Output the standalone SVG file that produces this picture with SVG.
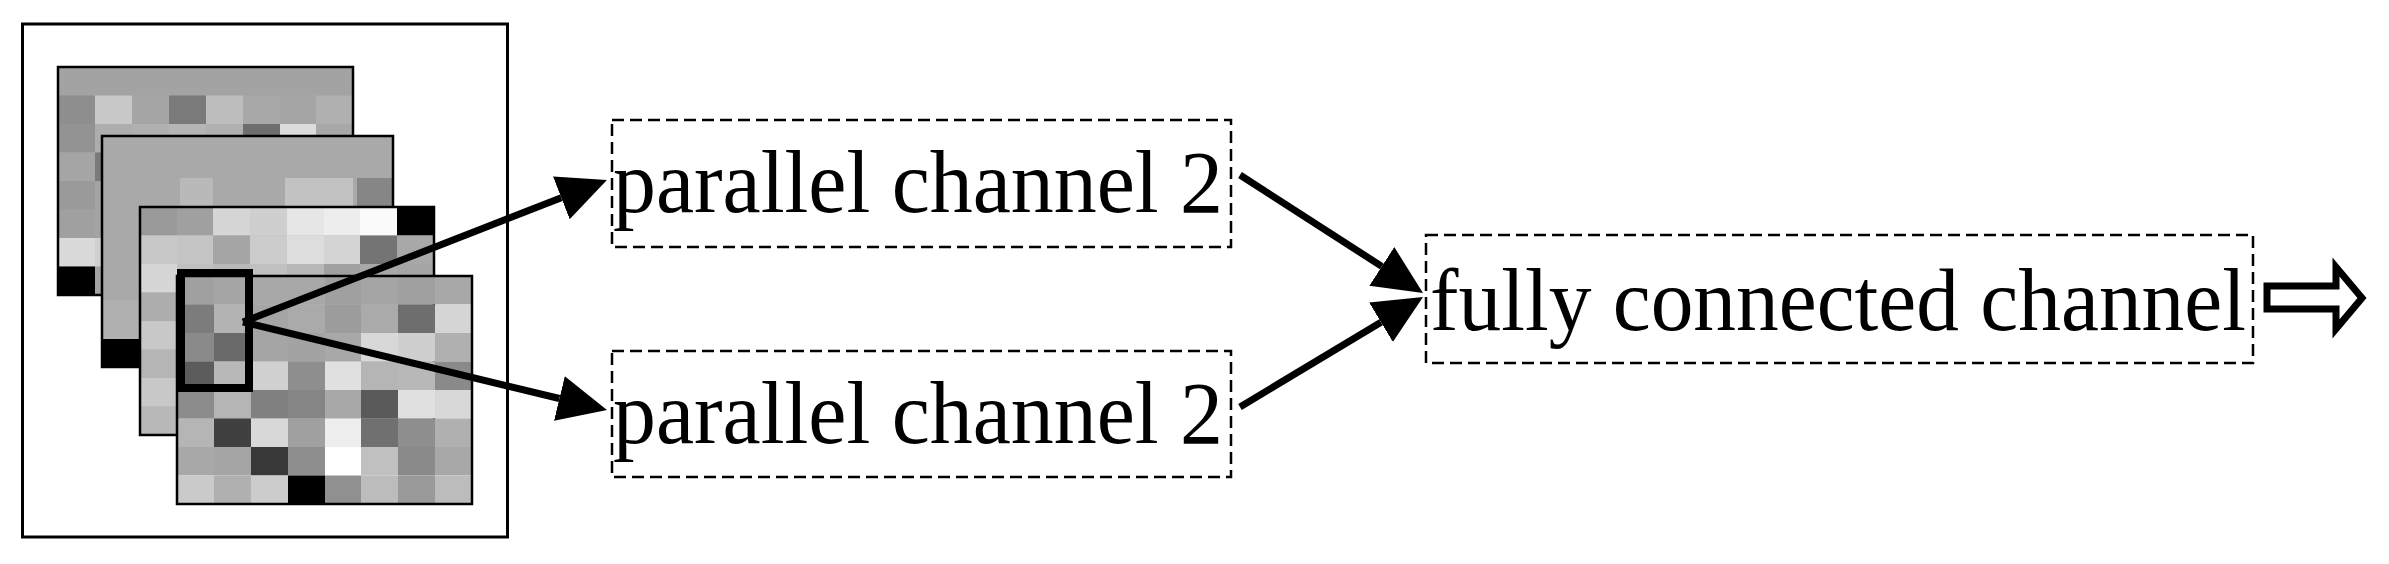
<svg xmlns="http://www.w3.org/2000/svg" width="2389" height="564" viewBox="0 0 2389 564">
<style>
  .frame{fill:none;stroke:#000;stroke-width:3}
  .layer{fill:none;stroke:#000;stroke-width:2.5}
  .box{fill:none;stroke:#000;stroke-width:2.5;stroke-dasharray:12 6}
  .lbl{font-family:"Liberation Serif","Times New Roman",serif;font-size:88px;fill:#000}
  .conn{stroke:#000;stroke-width:7;fill:none}
</style>
<defs>
  <marker id="head" markerUnits="userSpaceOnUse" markerWidth="50" markerHeight="48" refX="0" refY="24" orient="auto" viewBox="0 0 50 48">
    <path d="M0,1 L49,24 L0,47 z" fill="#000"/>
  </marker>
</defs>
<rect width="2389" height="564" fill="#fff"/>

<g id="input">
  <rect class="frame" x="22.5" y="24" width="485" height="513" fill="#fff"/>
  <g id="layer1">
    <rect x="58" y="67" width="295" height="228" fill="#a3a3a3"/>
    <rect x="58" y="95.5" width="37" height="28.5" fill="#8e8e8e"/>
    <rect x="95" y="95.5" width="37" height="28.5" fill="#c8c8c8"/>
    <rect x="132" y="95.5" width="37" height="28.5" fill="#a5a5a5"/>
    <rect x="169" y="95.5" width="37" height="28.5" fill="#7a7a7a"/>
    <rect x="206" y="95.5" width="37" height="28.5" fill="#bdbdbd"/>
    <rect x="243" y="95.5" width="37" height="28.5" fill="#a8a8a8"/>
    <rect x="280" y="95.5" width="36" height="28.5" fill="#a5a5a5"/>
    <rect x="316" y="95.5" width="37" height="28.5" fill="#b0b0b0"/>
    <rect x="58" y="124" width="37" height="28.5" fill="#939393"/>
    <rect x="95" y="124" width="37" height="28.5" fill="#adadad"/>
    <rect x="132" y="124" width="37" height="28.5" fill="#b0b0b0"/>
    <rect x="169" y="124" width="37" height="28.5" fill="#b5b5b5"/>
    <rect x="206" y="124" width="37" height="28.5" fill="#b0b0b0"/>
    <rect x="243" y="124" width="37" height="28.5" fill="#6e6e6e"/>
    <rect x="280" y="124" width="36" height="28.5" fill="#dcdcdc"/>
    <rect x="316" y="124" width="37" height="28.5" fill="#a8a8a8"/>
    <rect x="58" y="152.5" width="37" height="28.5" fill="#a5a5a5"/>
    <rect x="95" y="152.5" width="37" height="28.5" fill="#7a7a7a"/>
    <rect x="58" y="181" width="37" height="28.5" fill="#9a9a9a"/>
    <rect x="58" y="209.5" width="37" height="28.5" fill="#a0a0a0"/>
    <rect x="58" y="238" width="37" height="28.5" fill="#dadada"/>
    <rect x="95" y="238" width="37" height="28.5" fill="#d0d0d0"/>
    <rect x="58" y="266.5" width="37" height="28.5" fill="#000"/>
    <rect class="layer" x="58" y="67" width="295" height="228"/>
  </g>
  <g id="layer2">
    <rect x="102" y="136" width="291" height="231" fill="#a9a9a9"/>
    <rect x="180" y="178" width="33" height="29" fill="#b9b9b9"/>
    <rect x="285" y="178" width="68" height="29" fill="#c2c2c2"/>
    <rect x="357" y="178" width="35" height="29" fill="#868686"/>
    <rect x="102" y="300" width="38" height="39" fill="#b0b0b0"/>
    <rect x="102" y="339" width="38" height="28" fill="#000"/>
    <rect class="layer" x="102" y="136" width="291" height="231"/>
  </g>
  <g id="layer3">
    <rect x="140" y="207" width="294" height="228" fill="#b8b8b8"/>
    <rect x="140" y="207" width="37" height="28.5" fill="#9a9a9a"/>
    <rect x="177" y="207" width="36" height="28.5" fill="#a0a0a0"/>
    <rect x="213" y="207" width="37" height="28.5" fill="#d5d5d5"/>
    <rect x="250" y="207" width="37" height="28.5" fill="#cfcfcf"/>
    <rect x="287" y="207" width="37" height="28.5" fill="#e6e6e6"/>
    <rect x="324" y="207" width="36" height="28.5" fill="#ededed"/>
    <rect x="360" y="207" width="37" height="28.5" fill="#fafafa"/>
    <rect x="397" y="207" width="37" height="28.5" fill="#000"/>
    <rect x="140" y="235.5" width="37" height="28.5" fill="#c8c8c8"/>
    <rect x="177" y="235.5" width="36" height="28.5" fill="#c5c5c5"/>
    <rect x="213" y="235.5" width="37" height="28.5" fill="#a5a5a5"/>
    <rect x="250" y="235.5" width="37" height="28.5" fill="#cccccc"/>
    <rect x="287" y="235.5" width="37" height="28.5" fill="#dddddd"/>
    <rect x="324" y="235.5" width="36" height="28.5" fill="#d4d4d4"/>
    <rect x="360" y="235.5" width="37" height="28.5" fill="#747474"/>
    <rect x="397" y="235.5" width="37" height="28.5" fill="#a8a8a8"/>
    <rect x="140" y="264" width="37" height="28.5" fill="#d6d6d6"/>
    <rect x="177" y="264" width="36" height="28.5" fill="#c0c0c0"/>
    <rect x="213" y="264" width="37" height="28.5" fill="#b8b8b8"/>
    <rect x="250" y="264" width="37" height="28.5" fill="#c0c0c0"/>
    <rect x="287" y="264" width="37" height="28.5" fill="#b8b8b8"/>
    <rect x="324" y="264" width="36" height="28.5" fill="#a0a0a0"/>
    <rect x="360" y="264" width="37" height="28.5" fill="#a8a8a8"/>
    <rect x="397" y="264" width="37" height="28.5" fill="#a5a5a5"/>
    <rect x="140" y="292.5" width="37" height="28.5" fill="#adadad"/>
    <rect x="140" y="321" width="37" height="28.5" fill="#c8c8c8"/>
    <rect x="140" y="349.5" width="37" height="28.5" fill="#b5b5b5"/>
    <rect x="140" y="378" width="37" height="28.5" fill="#c8c8c8"/>
    <rect x="140" y="406.5" width="37" height="28.5" fill="#b8b8b8"/>
    <rect class="layer" x="140" y="207" width="294" height="228"/>
  </g>
  <g id="layer4">
    <rect x="177" y="276" width="37" height="28.5" fill="#a0a0a0"/>
    <rect x="214" y="276" width="37" height="28.5" fill="#a5a5a5"/>
    <rect x="251" y="276" width="37" height="28.5" fill="#a8a8a8"/>
    <rect x="288" y="276" width="37" height="28.5" fill="#a8a8a8"/>
    <rect x="325" y="276" width="36" height="28.5" fill="#a0a0a0"/>
    <rect x="361" y="276" width="37" height="28.5" fill="#a5a5a5"/>
    <rect x="398" y="276" width="37" height="28.5" fill="#a0a0a0"/>
    <rect x="435" y="276" width="37" height="28.5" fill="#a8a8a8"/>
    <rect x="177" y="304.5" width="37" height="28.5" fill="#7c7c7c"/>
    <rect x="214" y="304.5" width="37" height="28.5" fill="#b3b3b3"/>
    <rect x="251" y="304.5" width="37" height="28.5" fill="#a5a5a5"/>
    <rect x="288" y="304.5" width="37" height="28.5" fill="#aaaaaa"/>
    <rect x="325" y="304.5" width="36" height="28.5" fill="#9c9c9c"/>
    <rect x="361" y="304.5" width="37" height="28.5" fill="#aaaaaa"/>
    <rect x="398" y="304.5" width="37" height="28.5" fill="#6e6e6e"/>
    <rect x="435" y="304.5" width="37" height="28.5" fill="#d5d5d5"/>
    <rect x="177" y="333" width="37" height="28.5" fill="#8a8a8a"/>
    <rect x="214" y="333" width="37" height="28.5" fill="#6a6a6a"/>
    <rect x="251" y="333" width="37" height="28.5" fill="#a5a5a5"/>
    <rect x="288" y="333" width="37" height="28.5" fill="#a3a3a3"/>
    <rect x="325" y="333" width="36" height="28.5" fill="#a8a8a8"/>
    <rect x="361" y="333" width="37" height="28.5" fill="#d8d8d8"/>
    <rect x="398" y="333" width="37" height="28.5" fill="#cfcfcf"/>
    <rect x="435" y="333" width="37" height="28.5" fill="#b0b0b0"/>
    <rect x="177" y="361.5" width="37" height="28.5" fill="#5c5c5c"/>
    <rect x="214" y="361.5" width="37" height="28.5" fill="#b8b8b8"/>
    <rect x="251" y="361.5" width="37" height="28.5" fill="#d0d0d0"/>
    <rect x="288" y="361.5" width="37" height="28.5" fill="#8e8e8e"/>
    <rect x="325" y="361.5" width="36" height="28.5" fill="#e0e0e0"/>
    <rect x="361" y="361.5" width="37" height="28.5" fill="#b5b5b5"/>
    <rect x="398" y="361.5" width="37" height="28.5" fill="#b8b8b8"/>
    <rect x="435" y="361.5" width="37" height="28.5" fill="#8a8a8a"/>
    <rect x="177" y="390" width="37" height="28.5" fill="#8c8c8c"/>
    <rect x="214" y="390" width="37" height="28.5" fill="#b5b5b5"/>
    <rect x="251" y="390" width="37" height="28.5" fill="#808080"/>
    <rect x="288" y="390" width="37" height="28.5" fill="#858585"/>
    <rect x="325" y="390" width="36" height="28.5" fill="#a8a8a8"/>
    <rect x="361" y="390" width="37" height="28.5" fill="#5a5a5a"/>
    <rect x="398" y="390" width="37" height="28.5" fill="#e0e0e0"/>
    <rect x="435" y="390" width="37" height="28.5" fill="#d8d8d8"/>
    <rect x="177" y="418.5" width="37" height="28.5" fill="#b5b5b5"/>
    <rect x="214" y="418.5" width="37" height="28.5" fill="#404040"/>
    <rect x="251" y="418.5" width="37" height="28.5" fill="#d8d8d8"/>
    <rect x="288" y="418.5" width="37" height="28.5" fill="#a0a0a0"/>
    <rect x="325" y="418.5" width="36" height="28.5" fill="#eeeeee"/>
    <rect x="361" y="418.5" width="37" height="28.5" fill="#707070"/>
    <rect x="398" y="418.5" width="37" height="28.5" fill="#8e8e8e"/>
    <rect x="435" y="418.5" width="37" height="28.5" fill="#b0b0b0"/>
    <rect x="177" y="447" width="37" height="28.5" fill="#a8a8a8"/>
    <rect x="214" y="447" width="37" height="28.5" fill="#a5a5a5"/>
    <rect x="251" y="447" width="37" height="28.5" fill="#383838"/>
    <rect x="288" y="447" width="37" height="28.5" fill="#8e8e8e"/>
    <rect x="325" y="447" width="36" height="28.5" fill="#ffffff"/>
    <rect x="361" y="447" width="37" height="28.5" fill="#c0c0c0"/>
    <rect x="398" y="447" width="37" height="28.5" fill="#8a8a8a"/>
    <rect x="435" y="447" width="37" height="28.5" fill="#a8a8a8"/>
    <rect x="177" y="475.5" width="37" height="28.5" fill="#cacaca"/>
    <rect x="214" y="475.5" width="37" height="28.5" fill="#b0b0b0"/>
    <rect x="251" y="475.5" width="37" height="28.5" fill="#cccccc"/>
    <rect x="288" y="475.5" width="37" height="28.5" fill="#000000"/>
    <rect x="325" y="475.5" width="36" height="28.5" fill="#909090"/>
    <rect x="361" y="475.5" width="37" height="28.5" fill="#bcbcbc"/>
    <rect x="398" y="475.5" width="37" height="28.5" fill="#9a9a9a"/>
    <rect x="435" y="475.5" width="37" height="28.5" fill="#bcbcbc"/>
    <rect class="layer" x="177" y="276" width="295" height="228"/>
  </g>
  <rect x="181" y="273" width="68" height="115" fill="none" stroke="#000" stroke-width="8"/>
</g>

<g id="pc1">
  <rect class="box" x="612" y="120" width="619" height="127"/>
  <text class="lbl" x="613" y="212" textLength="610" lengthAdjust="spacingAndGlyphs">parallel channel 2</text>
</g>

<g id="pc2">
  <rect class="box" x="612" y="351" width="619" height="126"/>
  <text class="lbl" x="613" y="443" textLength="610" lengthAdjust="spacingAndGlyphs">parallel channel 2</text>
</g>

<g id="fc">
  <rect class="box" x="1426" y="235" width="827" height="128"/>
  <text class="lbl" x="1430" y="330" textLength="816" lengthAdjust="spacingAndGlyphs">fully connected channel</text>
</g>

<g id="connectors">
  <line class="conn" x1="243" y1="322" x2="561.3" y2="197.8" marker-end="url(#head)"/>
  <line class="conn" x1="243" y1="322" x2="559.4" y2="398.5" marker-end="url(#head)"/>
  <line class="conn" x1="1240" y1="175" x2="1381.8" y2="266.4" marker-end="url(#head)"/>
  <line class="conn" x1="1240" y1="407" x2="1381" y2="322.2" marker-end="url(#head)"/>
  <polygon points="2267,286 2336,286 2336,267 2362,298 2336,329 2336,309 2267,309" fill="#fff" stroke="#000" stroke-width="7" stroke-linejoin="miter"/>
</g>
</svg>
